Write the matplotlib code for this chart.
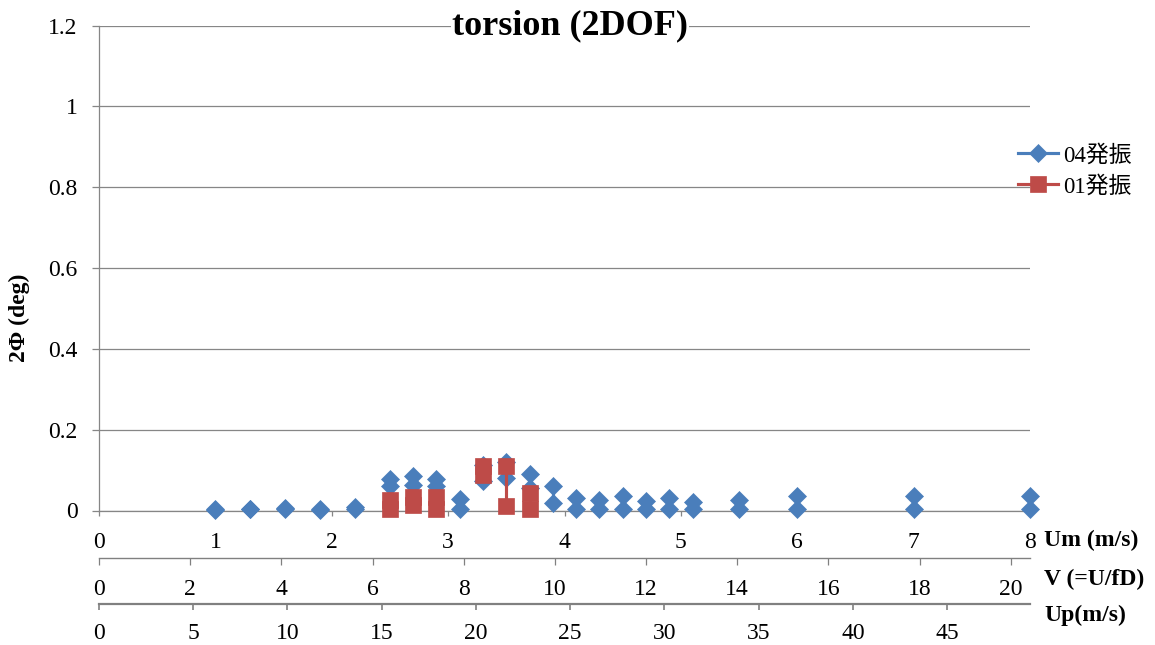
import numpy as np
import matplotlib
matplotlib.use("Agg")
import matplotlib.pyplot as plt
from matplotlib.font_manager import FontProperties

# Torsional response amplitude versus wind speed, two excitation cases
um_04 = [1.0, 1.3, 1.6, 1.9, 2.2, 2.5, 2.7, 2.9, 3.1, 3.3, 3.5, 3.7,
         3.9, 4.1, 4.3, 4.5, 4.7, 4.9, 5.1, 5.5, 6.0, 7.0, 8.0]
amp_04_hi = [0.004, 0.004, 0.007, 0.004, 0.009, 0.077, 0.085, 0.079, 0.029,
             0.113, 0.121, 0.091, 0.060, 0.032, 0.025, 0.037, 0.024, 0.031,
             0.022, 0.025, 0.036, 0.037, 0.037]
amp_04_lo = [0.002, 0.003, 0.004, 0.002, 0.004, 0.060, 0.062, 0.060, 0.004,
             0.073, 0.080, 0.055, 0.019, 0.004, 0.003, 0.003, 0.003, 0.003,
             0.003, 0.003, 0.003, 0.003, 0.003]

um_01 = [2.5, 2.7, 2.9, 3.3, 3.5, 3.7]
amp_01_hi = [0.026, 0.033, 0.034, 0.111, 0.109, 0.044]
amp_01_lo = [0.003, 0.014, 0.003, 0.087, 0.012, 0.003]

series_labels = ["04発振", "01発振"]

um_ticks = [0, 1, 2, 3, 4, 5, 6, 7, 8]
v_ticks = [0, 2, 4, 6, 8, 10, 12, 14, 16, 18, 20]
up_ticks = [0, 5, 10, 15, 20, 25, 30, 35, 40, 45]
y_ticks = [0, 0.2, 0.4, 0.6, 0.8, 1.0, 1.2]
y_ticklabels = ["0", "0.2", "0.4", "0.6", "0.8", "1", "1.2"]

um_max = 8.0
v_max = 20.42
up_max = 49.4
y_max = 1.2


def paired(x, lo, hi):
    """Join each (lo, hi) pair at one speed into its own segment."""
    xs, ys = [], []
    for xi, a, b in zip(x, lo, hi):
        xs += [xi, xi, np.nan]
        ys += [a, b, np.nan]
    return xs, ys


SERIF = "Liberation Serif"
plt.rcParams["font.family"] = [SERIF, "Noto Sans CJK JP", "DejaVu Sans"]

W, H = 1155, 645
fig = plt.figure(figsize=(W / 100, H / 100), dpi=100)
left, right, top, bottom = 99, 1030, 25.5, 510.5
ax = fig.add_axes([left / W, 1 - bottom / H, (right - left) / W, (bottom - top) / H])

grey = "#868686"

x04, y04 = paired(um_04, amp_04_lo, amp_04_hi)
x01, y01 = paired(um_01, amp_01_lo, amp_01_hi)
ax.plot(x04, y04, color="#4A7EBB", lw=2.25, marker="D", ms=9.2,
        mec="#4A7EBB", mew=0.5, label=series_labels[0], clip_on=False, zorder=3)
ax.plot(x01, y01, color="#BE4B48", lw=2.25, marker="s", ms=11.0,
        mec="#BE4B48", mew=0.5, label=series_labels[1], clip_on=False, zorder=4)

ax.set_xlim(0, um_max)
ax.set_ylim(0, y_max)
ax.set_xticks(um_ticks)
ax.set_xticklabels([str(t) for t in um_ticks])
ax.set_yticks(y_ticks)
ax.set_yticklabels(y_ticklabels)
ax.grid(axis="y", color=grey, lw=0.9)
ax.set_axisbelow(True)
for s in ["top", "right"]:
    ax.spines[s].set_visible(False)
for s in ["left", "bottom"]:
    ax.spines[s].set_color(grey)
    ax.spines[s].set_linewidth(0.9)
ax.tick_params(axis="y", direction="out", length=5.4, width=0.9, color=grey,
               pad=10, labelsize=17)
ax.tick_params(axis="x", direction="out", length=3.6, width=0.9, color=grey,
               pad=11.9, labelsize=17)

# Reduced velocity scale
ax_v = ax.twiny()
ax_v.set_xlim(0, v_max)
ax_v.xaxis.set_ticks_position("bottom")
ax_v.spines["bottom"].set_position(("outward", 34.2))
for s in ["top", "left", "right"]:
    ax_v.spines[s].set_visible(False)
ax_v.spines["bottom"].set_color("#808080")
ax_v.spines["bottom"].set_linewidth(1.0)
ax_v.set_xticks(v_ticks)
ax_v.set_xticklabels([str(t) for t in v_ticks])
ax_v.tick_params(axis="x", direction="out", length=5, width=0.9, color="#808080",
                 pad=10, labelsize=17)

# Prototype wind speed scale
ax_up = ax.twiny()
ax_up.set_xlim(0, up_max)
ax_up.xaxis.set_ticks_position("bottom")
ax_up.spines["bottom"].set_position(("outward", 67))
for s in ["top", "left", "right"]:
    ax_up.spines[s].set_visible(False)
ax_up.spines["bottom"].set_color("#808080")
ax_up.spines["bottom"].set_linewidth(1.6)
ax_up.set_xticks(up_ticks)
ax_up.set_xticklabels([str(t) for t in up_ticks])
ax_up.tick_params(axis="x", direction="out", length=4.3, width=1.2, color="#808080",
                  pad=9.4, labelsize=17)

fig.text(570 / W, 1 - 26 / H, "torsion (2DOF)", ha="center", va="center",
         fontsize=26, fontweight="bold", family=SERIF,
         bbox=dict(facecolor="white", edgecolor="none", pad=1))
fig.text(19 / W, 1 - 318 / H, "2Φ (deg)", rotation=90, ha="center", va="center",
         fontsize=17, fontweight="bold", family=SERIF)

axis_names = [("Um (m/s)", 540), ("V (=U/fD)", 579), ("Up(m/s)", 615)]
for name, ypix in axis_names:
    fig.text(1044 / W, 1 - ypix / H, name, ha="left", va="center",
             fontsize=17, fontweight="bold", family=SERIF)

leg_font = FontProperties(family=[SERIF, "Noto Sans CJK JP"], size=16.5)
ax.legend(loc="center left", bbox_to_anchor=(1018 / W, 1 - 171 / H),
          bbox_transform=fig.transFigure, frameon=False, prop=leg_font,
          borderaxespad=0, borderpad=0, handlelength=1.75, handletextpad=0.2,
          numpoints=1, labelspacing=0.4)

fig.savefig("out.png", dpi=100)
